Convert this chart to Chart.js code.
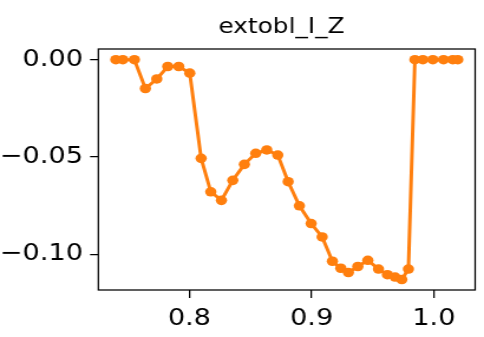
<!DOCTYPE html>
<html>
<head>
<meta charset="utf-8">
<script src="https://cdn.jsdelivr.net/npm/chart.js@4/dist/chart.umd.min.js"></script>
<style>
html,body{margin:0;padding:0;background:#fff;overflow:hidden;}
canvas{display:block;}
</style>
</head>
<body>
<canvas id="c" width="410" height="337" style="width:484px;height:337px;"></canvas>
<script>
const chartTitle = "extobl_I_Z";
const xValues = [0.7398,0.7455,0.7550,0.7640,0.7733,0.7823,0.7913,0.8003,0.8096,0.8175,
  0.8262,0.8355,0.8450,0.8543,0.8633,0.8723,0.8808,0.8900,0.8996,0.9086,
  0.9170,0.9239,0.9301,0.9378,0.9460,0.9547,0.9620,0.9683,0.9738,0.9792,
  0.9845,0.9910,0.9992,1.0079,1.0155,1.0196];
const yValues = [0,0,0,-0.0148,-0.0099,-0.0035,-0.0035,-0.0069,-0.0507,-0.0679,
  -0.0723,-0.0620,-0.0538,-0.0481,-0.0464,-0.0490,-0.0627,-0.0751,-0.0842,-0.0911,
  -0.1036,-0.1072,-0.1094,-0.1063,-0.1031,-0.1076,-0.1105,-0.1117,-0.1130,-0.1076,
  0,0,0,0,0,0];
const xTicks = [0.8, 0.9, 1.0];
const yTicks = [0.00, -0.05, -0.10];

const FONT = "'DejaVu Sans', sans-serif";
const fmtY = v => (v < 0 ? "\u2212" : "") + Math.abs(v).toFixed(2);
const fmtX = v => v.toFixed(1);

const framePlugin = {
  id: 'frame',
  afterDraw(chart) {
    const {ctx, chartArea: a} = chart;
    ctx.save();
    ctx.strokeStyle = '#000';
    ctx.lineWidth = 1.25;
    ctx.strokeRect(a.left, a.top, a.right - a.left, a.bottom - a.top);
    ctx.fillStyle = '#000';
    ctx.font = "21px " + FONT;
    ctx.textAlign = 'center';
    ctx.textBaseline = 'alphabetic';
    ctx.fillText(chartTitle, (a.left + a.right) / 2 - 4.5, 32.5);
    ctx.restore();
  }
};

new Chart(document.getElementById('c'), {
  type: 'line',
  data: {
    datasets: [{
      data: xValues.map((x, i) => ({x: x, y: yValues[i]})),
      borderColor: '#ff7f0e',
      backgroundColor: '#ff7f0e',
      borderWidth: 3,
      pointRadius: 4.8,
      pointBorderWidth: 0,
      pointBackgroundColor: '#ff7f0e',
      tension: 0,
      fill: false
    }]
  },
  options: {
    responsive: false,
    animation: false,
    devicePixelRatio: 1,
    layout: {padding: {top: 49, right: 7.5, left: 0, bottom: 0}},
    plugins: {legend: {display: false}, tooltip: {enabled: false}, title: {display: false}},
    scales: {
      x: {
        type: 'linear',
        min: 0.7255, max: 1.0338,
        afterBuildTicks: s => { s.ticks = xTicks.map(v => ({value: v})); },
        afterFit: s => { s.height = 47; },
        grid: {display: true, drawOnChartArea: false, drawTicks: true, tickLength: 8, color: '#000', lineWidth: 1.25},
        border: {display: false},
        ticks: {color: '#000', font: {family: FONT, size: 23}, padding: 7, maxRotation: 0, callback: v => fmtX(v)}
      },
      y: {
        type: 'linear',
        min: -0.11837, max: 0.0055,
        afterBuildTicks: s => { s.ticks = yTicks.map(v => ({value: v})); },
        afterFit: s => { s.width = 83.3; },
        grid: {display: true, drawOnChartArea: false, drawTicks: true, tickLength: 7, color: '#000', lineWidth: 1.25},
        border: {display: false},
        ticks: {color: '#000', font: {family: FONT, size: 23}, padding: 6, callback: v => fmtY(v)}
      }
    }
  },
  plugins: [framePlugin]
});
</script>
</body>
</html>
